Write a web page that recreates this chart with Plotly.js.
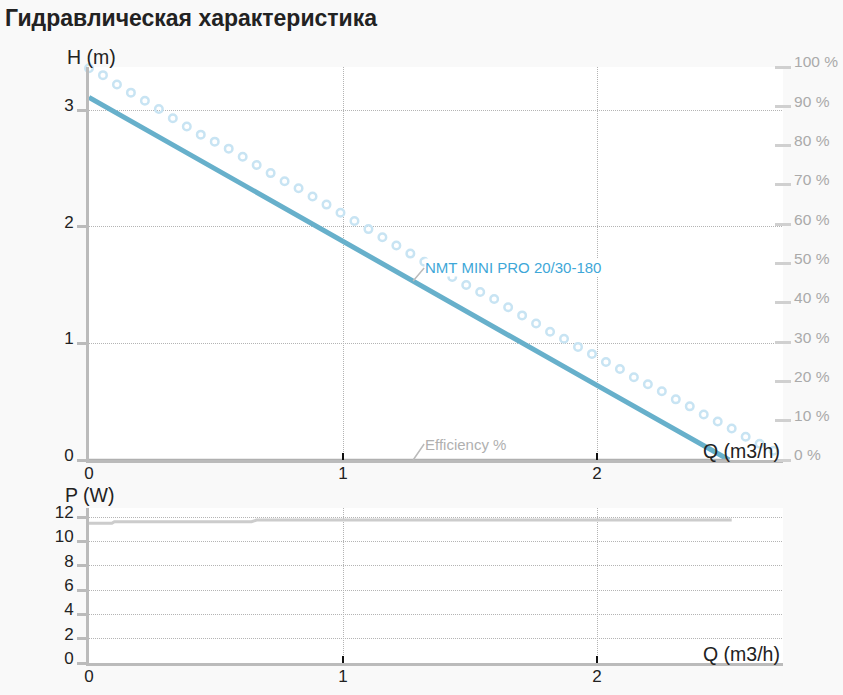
<!DOCTYPE html>
<html>
<head>
<meta charset="utf-8">
<script src="https://cdn.plot.ly/plotly-3.0.1.min.js"></script>
<style>
  html, body { margin: 0; padding: 0; background: #f9f9f9; }
  #hydro_chart { width: 843px; height: 695px; }
</style>
</head>
<body>
<div id="hydro_chart"></div>
<script>
// pump curve NMT MINI PRO 20/30-180
var q_pump = [0, 0.5, 1, 1.5, 2, 2.52];
var h_pump = [3.11, 2.49, 1.87, 1.26, 0.64, 0];

// dotted (max) curve, read point by point
var q_max = [0, 0.055, 0.11, 0.165, 0.22, 0.275, 0.33, 0.385, 0.44, 0.495,
             0.55, 0.605, 0.66, 0.715, 0.77, 0.825, 0.88, 0.935, 0.99, 1.045,
             1.1, 1.155, 1.21, 1.265, 1.32, 1.375, 1.43, 1.485, 1.54, 1.595,
             1.65, 1.705, 1.76, 1.815, 1.87, 1.925, 1.98, 2.035, 2.09, 2.145,
             2.2, 2.255, 2.31, 2.365, 2.42, 2.475, 2.53, 2.585, 2.64, 2.695];
var h_max = [3.36, 3.30, 3.22, 3.15, 3.08, 3.01, 2.93, 2.86, 2.79, 2.73,
             2.67, 2.60, 2.53, 2.46, 2.39, 2.33, 2.26, 2.19, 2.12, 2.05,
             1.98, 1.91, 1.84, 1.77, 1.70, 1.63, 1.57, 1.50, 1.44, 1.38,
             1.31, 1.24, 1.17, 1.10, 1.04, 0.97, 0.91, 0.84, 0.78, 0.71,
             0.65, 0.59, 0.52, 0.46, 0.39, 0.33, 0.27, 0.20, 0.14, 0.08];

// efficiency (%)
var q_eff = [0, 2.52];
var eff = [0, 0];

// power (W)
var q_power = [0, 0.09, 0.1, 0.64, 0.66, 2.53];
var p_power = [11.48, 11.48, 11.62, 11.62, 11.75, 11.75];

var h_ticks = [0, 1, 2, 3];
var p_ticks = [0, 2, 4, 6, 8, 10, 12];
var q_ticks = [0, 1, 2];
var eff_ticks = [0, 10, 20, 30, 40, 50, 60, 70, 80, 90, 100];
var eff_labels = ['0 %', '10 %', '20 %', '30 %', '40 %', '50 %', '60 %', '70 %', '80 %', '90 %', '100 %'];

var FONT = 'Arial, "Liberation Sans", sans-serif';
var W = 843, H = 695;
var H_TOP = 3.37, P_TOP = 12.74;

var data = [
    {
        x: q_eff, y: eff, yaxis: 'y2', xaxis: 'x',
        type: 'scatter', mode: 'lines',
        line: {color: '#b0b0b0', width: 2.5},
        hoverinfo: 'skip'
    },
    {
        x: q_max, y: h_max, xaxis: 'x', yaxis: 'y',
        type: 'scatter', mode: 'markers', cliponaxis: false,
        marker: {symbol: 'circle-open', size: 7.5, color: '#c8e4f3', line: {width: 2.5, color: '#c8e4f3'}},
        hoverinfo: 'skip'
    },
    {
        x: q_pump, y: h_pump, xaxis: 'x', yaxis: 'y',
        type: 'scatter', mode: 'lines',
        line: {color: '#67b0cb', width: 5},
        name: 'NMT MINI PRO 20/30-180'
    },
    {
        x: q_power, y: p_power, xaxis: 'x2', yaxis: 'y3',
        type: 'scatter', mode: 'lines',
        line: {color: '#cccccc', width: 3},
        name: 'P'
    }
];

var xStyle = {
    domain: [89 / W, 783 / W],
    range: [0, 2.732],
    tickvals: q_ticks,
    ticks: 'inside', ticklen: 7, tickwidth: 2, tickcolor: '#111',
    showline: true, linecolor: '#bbbbbb', linewidth: 3,
    showgrid: true, gridcolor: '#b4b4b4', griddash: '1px,1px', gridwidth: 1,
    zeroline: false, ticklabelstandoff: -4,
    tickfont: {size: 17, color: '#222'}
};

var yStyle = {
    ticks: 'outside', ticklen: 9, tickwidth: 3, tickcolor: '#bbbbbb',
    showline: true, linecolor: '#bbbbbb', linewidth: 3,
    showgrid: true, gridcolor: '#b4b4b4', griddash: '1px,1px', gridwidth: 1,
    zeroline: false, ticklabelshift: -5,
    tickfont: {size: 17, color: '#222'}
};

var layout = {
    width: W,
    height: H,
    margin: {l: 0, r: 0, t: 0, b: 0},
    paper_bgcolor: '#f9f9f9',
    plot_bgcolor: '#ffffff',
    showlegend: false,
    font: {family: FONT, color: '#222'},
    title: {
        text: 'Гидравлическая характеристика',
        xref: 'container', yref: 'container',
        x: 5 / W, xanchor: 'left',
        y: 1 - 18 / H, yanchor: 'middle',
        font: {family: FONT, size: 23, color: '#222', weight: 'bold'}
    },
    xaxis: Object.assign({}, xStyle, {anchor: 'y'}),
    xaxis2: Object.assign({}, xStyle, {anchor: 'y3'}),
    yaxis: Object.assign({}, yStyle, {
        domain: [1 - 460 / H, 1 - 67 / H], range: [0, H_TOP], tickvals: h_ticks, anchor: 'x'
    }),
    yaxis2: {
        overlaying: 'y', side: 'right', anchor: 'free', position: 774 / W,
        range: [0, 100], tickvals: eff_ticks, ticktext: eff_labels,
        ticks: 'outside', ticklen: 16, tickwidth: 3, tickcolor: '#d0d0d0',
        showline: false, showgrid: false, zeroline: false, ticklabelshift: -5,
        tickfont: {size: 15.5, color: '#aaaaaa'}
    },
    yaxis3: Object.assign({}, yStyle, {
        domain: [1 - 663 / H, 1 - 508 / H], range: [0, P_TOP], tickvals: p_ticks, anchor: 'x2'
    }),
    // inner half of the crossing tick marks
    yaxis4: {
        overlaying: 'y', anchor: 'x', range: [0, H_TOP], tickvals: h_ticks,
        ticks: 'inside', ticklen: 8, tickwidth: 3, tickcolor: '#bbbbbb',
        showticklabels: false, showline: false, showgrid: false, zeroline: false
    },
    yaxis5: {
        overlaying: 'y3', anchor: 'x2', range: [0, P_TOP], tickvals: p_ticks,
        ticks: 'inside', ticklen: 8, tickwidth: 3, tickcolor: '#bbbbbb',
        showticklabels: false, showline: false, showgrid: false, zeroline: false
    },
    annotations: [
        {
            text: 'H (m)', xref: 'paper', yref: 'paper',
            x: 65 / W, y: 1 - 57 / H, xanchor: 'left', yanchor: 'middle',
            showarrow: false, font: {size: 19.5, color: '#222'}
        },
        {
            text: 'Q (m3/h)', xref: 'paper', yref: 'paper',
            x: 782 / W, y: 1 - 451 / H, xanchor: 'right', yanchor: 'middle',
            showarrow: false, font: {size: 19.5, color: '#222'}
        },
        {
            text: 'P (W)', xref: 'paper', yref: 'paper',
            x: 63 / W, y: 1 - 495 / H, xanchor: 'left', yanchor: 'middle',
            showarrow: false, font: {size: 19.5, color: '#222'}
        },
        {
            text: 'Q (m3/h)', xref: 'paper', yref: 'paper',
            x: 782 / W, y: 1 - 654 / H, xanchor: 'right', yanchor: 'middle',
            showarrow: false, font: {size: 19.5, color: '#222'}
        },
        {
            text: 'NMT MINI PRO 20/30-180', xref: 'x', yref: 'y',
            x: 1.276, y: 1.535, ax: 11, ay: -13,
            xanchor: 'left', yanchor: 'middle',
            showarrow: true, arrowhead: 0, arrowwidth: 1.5, arrowcolor: '#bbbbbb',
            bgcolor: '#ffffff', borderpad: 0,
            font: {size: 15, color: '#3ea7d8'}
        },
        {
            text: 'Efficiency %', xref: 'x', yref: 'y',
            x: 1.276, y: 0, ax: 11, ay: -16,
            xanchor: 'left', yanchor: 'middle',
            showarrow: true, arrowhead: 0, arrowwidth: 1.5, arrowcolor: '#bbbbbb',
            borderpad: 0,
            font: {size: 15, color: '#b0b0b0'}
        }
    ]
};

Plotly.newPlot('hydro_chart', data, layout, {
    displayModeBar: false,
    staticPlot: true
});
</script>
</body>
</html>
